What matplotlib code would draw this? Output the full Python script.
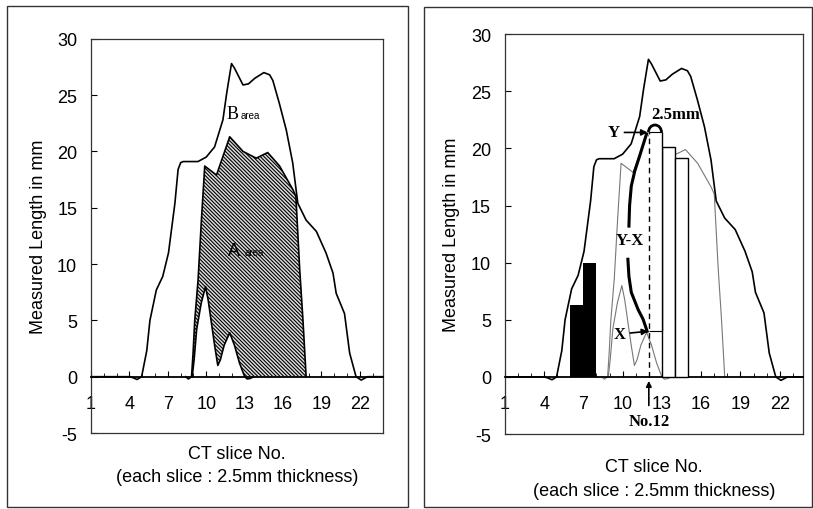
import numpy as np
import matplotlib
matplotlib.use("Agg")
import matplotlib.pyplot as plt
from matplotlib.patches import Rectangle, Arc

plt.rcParams['font.family'] = ['Liberation Sans', 'DejaVu Sans']
plt.rcParams['hatch.linewidth'] = 0.8
plt.rcParams['axes.unicode_minus'] = False

# outer contour (B area upper edge), slice no. vs mm
slice_b = [1, 4.0, 4.3, 4.6, 4.95, 5.35, 5.6, 6.1, 6.6, 7.05, 7.55, 7.8, 8.0, 8.2,
           9.35, 10.0, 10.65, 11.3, 11.6, 11.97, 12.2, 12.87, 13.3, 13.8, 14.5,
           14.95, 15.2, 15.7, 16.25, 16.75, 17.15, 17.8, 18.6, 19.35, 19.9, 20.15,
           20.8, 21.2, 21.7, 22.1, 22.6, 23.8]
len_b = [0, 0, -0.1, -0.25, 0, 2.3, 5.0, 7.7, 8.9, 11.0, 15.4, 18.4, 19.0, 19.1,
         19.1, 19.5, 20.4, 22.8, 25.2, 27.8, 27.4, 25.9, 26.0, 26.5, 27.0,
         26.8, 26.3, 24.3, 21.9, 19.0, 15.4, 13.9, 12.9, 11.0, 9.2, 7.4,
         5.6, 2.1, 0, -0.3, 0, 0]

# A area outline
slice_a = [8.4, 8.6, 8.85, 8.97, 9.1, 9.36, 9.62, 9.88, 10.8, 11.83, 12.87, 13.9,
           14.8, 15.73, 16.77, 17.0, 17.3, 17.55, 17.8]
len_a = [0, -0.2, 0, 2.1, 5.0, 8.6, 13.9, 18.7, 17.9, 21.3, 20.0, 19.4,
         19.9, 18.7, 16.6, 16.0, 9.5, 5.1, 0]

# inner contour
slice_in = [8.9, 9.05, 9.25, 9.6, 9.94, 10.15, 10.4, 10.65, 10.9, 11.1, 11.4,
            11.83, 12.2, 12.6, 13.0, 13.2, 13.45, 13.7]
len_in = [0, 1.5, 4.2, 6.5, 8.0, 6.8, 4.8, 2.8, 1.0, 1.5, 2.8,
          3.9, 2.8, 1.2, 0, -0.2, -0.15, 0]

# right panel bars
black_slices = [6, 7]
black_heights = [6.3, 10.0]
white_slices = [13, 14]
white_heights = [20.1, 19.2]
no12 = 12
x_val = 4.0
y_val = 21.4

# Y-X bracket
yx_up_x = [11.82, 11.3, 10.92, 10.66, 10.53, 10.48]
yx_up_y = [21.25, 19.35, 18.0, 16.7, 15.0, 13.2]
yx_lo_x = [10.4, 10.48, 10.66, 11.18, 11.56, 11.87]
yx_lo_y = [10.3, 8.8, 7.4, 5.9, 5.05, 4.0]

xticks = [1, 4, 7, 10, 13, 16, 19, 22]
yticks = [-5, 0, 5, 10, 15, 20, 25, 30]

fig = plt.figure(figsize=(8.13, 5.10), dpi=100)

fig.add_artist(Rectangle((0.0086, 0.004), 0.493, 0.982, transform=fig.transFigure,
                         fill=False, ec='#333333', lw=1.0))
fig.add_artist(Rectangle((0.5215, 0.004), 0.477, 0.980, transform=fig.transFigure,
                         fill=False, ec='#333333', lw=1.0))

ax1 = fig.add_axes([0.112, 0.149, 0.359, 0.773])
ax2 = fig.add_axes([0.621, 0.147, 0.367, 0.784])


def setup(ax, lab1, lab2):
    ax.set_xlim(1, 23.8)
    ax.set_ylim(-5, 30)
    ax.spines['bottom'].set_position(('data', 0))
    ax.spines['bottom'].set_linewidth(1.3)
    for s in ['left', 'right', 'top']:
        ax.spines[s].set_linewidth(0.9)
        ax.spines[s].set_color('#333333')
    ax.plot([0, 1], [0, 0], transform=ax.transAxes, color='#333333', lw=0.9, clip_on=False)
    ax.set_xticks(xticks)
    ax.set_xticks(range(1, 24), minor=True)
    ax.set_yticks(yticks)
    ax.tick_params(axis='both', which='both', direction='in', labelsize=13)
    ax.tick_params(axis='x', which='major', length=4, pad=13)
    ax.tick_params(axis='x', which='minor', length=3)
    ax.tick_params(axis='y', length=4, pad=10)
    ax.set_ylabel('Measured Length in mm', fontsize=13)
    ax.yaxis.set_label_coords(-0.15, 0.5)
    ax.text(0.5, lab1, 'CT slice No.', transform=ax.transAxes, ha='center', va='center', fontsize=13)
    ax.text(0.5, lab2, '(each slice : 2.5mm thickness)', transform=ax.transAxes,
            ha='center', va='center', fontsize=13)


setup(ax1, -0.053, -0.11)
setup(ax2, -0.08, -0.14)

# left panel
fill_x = np.concatenate([slice_a, slice_in[::-1]])
fill_y = np.clip(np.concatenate([len_a, len_in[::-1]]), 0, None)
ax1.fill(fill_x, fill_y, facecolor='#dcdcdc', edgecolor='black', hatch='\\' * 9, lw=0, zorder=2)
ax1.plot(slice_a, len_a, color='black', lw=1.2, zorder=3)
ax1.plot(slice_in, len_in, color='black', lw=1.2, zorder=3)
ax1.plot(slice_b, len_b, color='black', lw=1.2, zorder=3)

ax1.text(12.55, 23.0, 'B', family=['Liberation Serif'], fontsize=13, ha='right', va='baseline')
ax1.text(12.7, 23.0, 'area', fontsize=7, ha='left', va='baseline')
ax1.text(12.6, 10.8, 'A', fontsize=13, ha='right', va='baseline', zorder=4)
ax1.text(13.0, 10.8, 'area', fontsize=7, ha='left', va='baseline', zorder=4)

# right panel
ax2.plot(slice_a, len_a, color='#777777', lw=0.8, zorder=2)
ax2.plot(slice_in, len_in, color='#777777', lw=0.8, zorder=2)
ax2.plot(slice_b, len_b, color='black', lw=1.2, zorder=2)

ax2.bar(black_slices, black_heights, width=1, align='edge', color='black', zorder=3)
ax2.bar(white_slices, white_heights, width=1, align='edge', facecolor='white',
        edgecolor='black', lw=1.0, zorder=3)
ax2.bar(no12, y_val - x_val, bottom=x_val, width=1, align='edge', facecolor='white',
        edgecolor='none', zorder=3)
ax2.vlines(no12 + 1, x_val, y_val, color='black', lw=1.0, zorder=4)
ax2.hlines([x_val, y_val], no12, no12 + 1, color='black', lw=0.8, zorder=4)
ax2.vlines(no12, 0, y_val, color='black', lw=1.0, linestyles=(0, (4, 3)), zorder=4)
ax2.add_patch(Arc((no12 + 0.47, y_val), 1.0, 1.3, theta1=0, theta2=180, lw=2.0,
                  color='black', zorder=5))

ax2.plot(yx_up_x, yx_up_y, color='black', lw=2.2, zorder=5)
ax2.plot(yx_lo_x, yx_lo_y, color='black', lw=2.2, zorder=5)

bold_serif = dict(family=['Liberation Serif'], fontweight='bold', fontsize=12)
ax2.annotate('Y', xy=(no12 - 0.1, y_val), xytext=(9.35, y_val), ha='center', va='center',
             arrowprops=dict(arrowstyle='-|>', color='black', lw=1.2, mutation_scale=9,
                             shrinkA=1, shrinkB=0), zorder=6, **bold_serif)
ax2.annotate('X', xy=(no12 - 0.05, x_val), xytext=(9.8, 3.75), ha='center', va='center',
             arrowprops=dict(arrowstyle='-|>', color='black', lw=1.2, mutation_scale=9,
                             shrinkA=1, shrinkB=0), zorder=6, **bold_serif)
ax2.annotate('', xy=(no12, -0.35), xytext=(no12, -2.5),
             arrowprops=dict(arrowstyle='-|>', color='black', lw=1.2, mutation_scale=8,
                             shrinkA=0, shrinkB=0), annotation_clip=False)
ax2.text(no12, -3.9, 'No.12', ha='center', va='center', **bold_serif)
ax2.text(14.05, 22.7, '2.5mm', ha='center', va='baseline', zorder=6, **bold_serif)
ax2.text(10.58, 12.0, 'Y-X', ha='center', va='center', zorder=6, **bold_serif)

fig.savefig('out.png', dpi=100)
